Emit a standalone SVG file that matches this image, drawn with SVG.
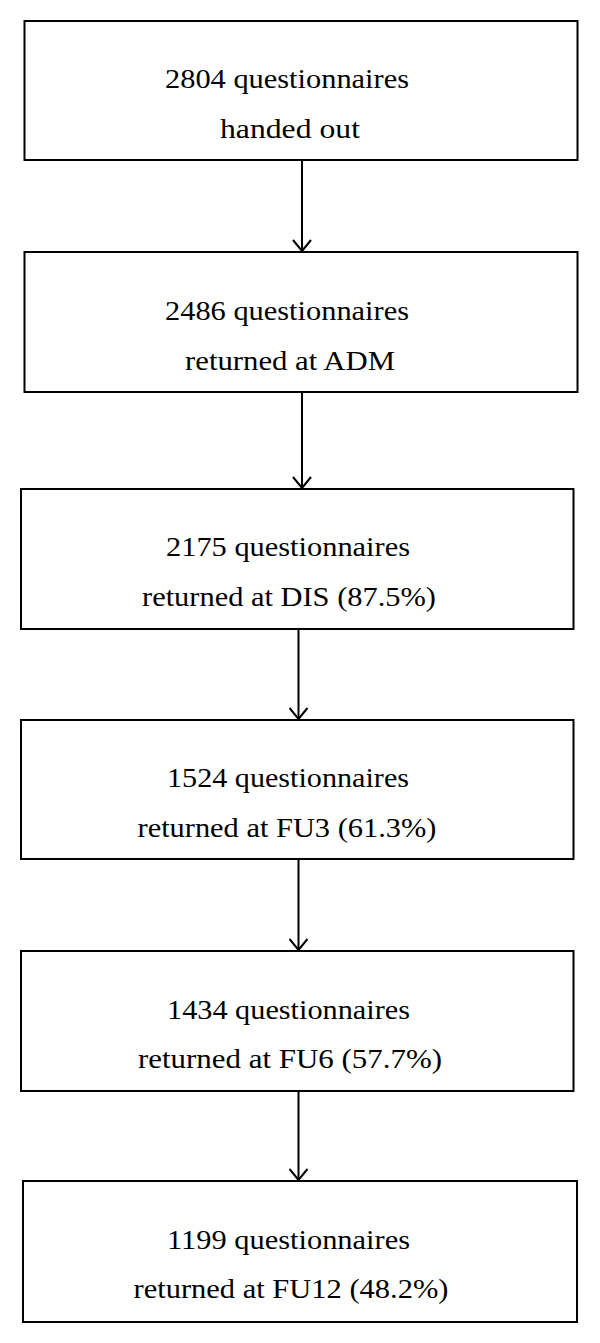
<svg xmlns="http://www.w3.org/2000/svg" width="600" height="1343" viewBox="0 0 600 1343">
<style>
.box{fill:#fff;stroke:#000;stroke-width:2}
.t{font-family:"Liberation Serif","Times New Roman",serif;font-size:27px;fill:#000;text-anchor:middle}
.c{stroke:#000;stroke-width:2;fill:none}
</style>
<defs>
<marker id="ah" viewBox="0 0 14 20" refX="13" refY="10" markerWidth="14" markerHeight="20" markerUnits="userSpaceOnUse" orient="auto">
<path d="M2,1 L13,10 L2,19" fill="none" stroke="#000" stroke-width="2"/>
</marker>
</defs>
<rect width="600" height="1343" fill="#fff"/>
<g id="connectors">
<line class="c" x1="302" y1="160" x2="302" y2="251" marker-end="url(#ah)"/>
<line class="c" x1="302" y1="392" x2="302" y2="488" marker-end="url(#ah)"/>
<line class="c" x1="298.5" y1="629" x2="298.5" y2="719" marker-end="url(#ah)"/>
<line class="c" x1="298.5" y1="859" x2="298.5" y2="950" marker-end="url(#ah)"/>
<line class="c" x1="298.5" y1="1091" x2="298.5" y2="1180" marker-end="url(#ah)"/>
</g>
<g id="node1">
<rect class="box" x="24.5" y="21" width="553" height="139"/>
<text class="t" x="287" y="88" textLength="244" lengthAdjust="spacingAndGlyphs">2804 questionnaires</text>
<text class="t" x="290" y="138" textLength="140" lengthAdjust="spacingAndGlyphs">handed out</text>
</g>
<g id="node2">
<rect class="box" x="24.5" y="252" width="553" height="140"/>
<text class="t" x="287" y="320" textLength="244" lengthAdjust="spacingAndGlyphs">2486 questionnaires</text>
<text class="t" x="290" y="370" textLength="210" lengthAdjust="spacingAndGlyphs">returned at ADM</text>
</g>
<g id="node3">
<rect class="box" x="21" y="489" width="552.5" height="140"/>
<text class="t" x="288" y="556" textLength="244" lengthAdjust="spacingAndGlyphs">2175 questionnaires</text>
<text class="t" x="289" y="606" textLength="294" lengthAdjust="spacingAndGlyphs">returned at DIS (87.5%)</text>
</g>
<g id="node4">
<rect class="box" x="21" y="720" width="552.5" height="139"/>
<text class="t" x="288" y="787" textLength="242" lengthAdjust="spacingAndGlyphs">1524 questionnaires</text>
<text class="t" x="287" y="837" textLength="299" lengthAdjust="spacingAndGlyphs">returned at FU3 (61.3%)</text>
</g>
<g id="node5">
<rect class="box" x="21" y="951" width="552.5" height="140"/>
<text class="t" x="288.5" y="1019" textLength="243" lengthAdjust="spacingAndGlyphs">1434 questionnaires</text>
<text class="t" x="290" y="1068" textLength="304" lengthAdjust="spacingAndGlyphs">returned at FU6 (57.7%)</text>
</g>
<g id="node6">
<rect class="box" x="23" y="1181" width="554" height="141"/>
<text class="t" x="288.5" y="1249" textLength="243" lengthAdjust="spacingAndGlyphs">1199 questionnaires</text>
<text class="t" x="291" y="1298" textLength="315" lengthAdjust="spacingAndGlyphs">returned at FU12 (48.2%)</text>
</g>
</svg>
